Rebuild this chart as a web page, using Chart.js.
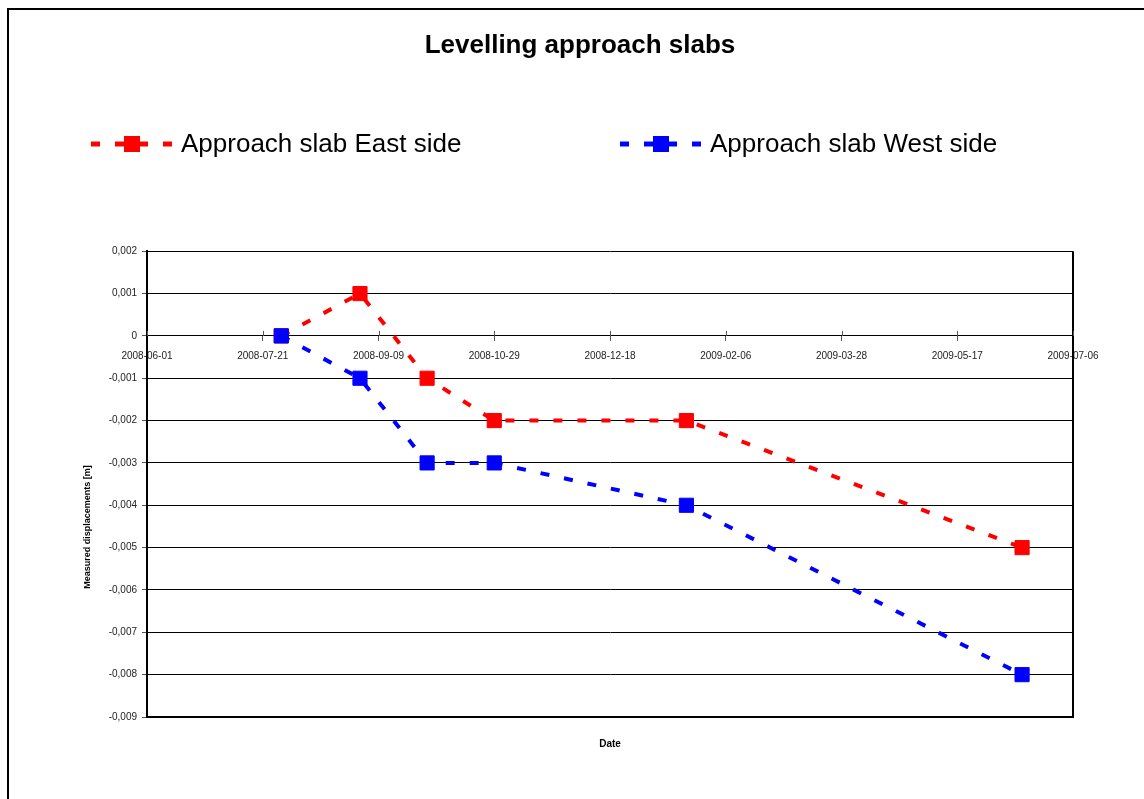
<!DOCTYPE html>
<html>
<head>
<meta charset="utf-8">
<title>Levelling approach slabs</title>
<script src="https://cdn.jsdelivr.net/npm/chart.js@4.4.1/dist/chart.umd.min.js"></script>
<style>
  body { margin: 0; background: #fff; overflow: hidden; }
  #frame { position: absolute; left: 7px; top: 8px; width: 1200px; height: 900px; border-left: 2px solid #000; border-top: 2px solid #000; }
  #wrap { position: absolute; left: 0; top: 0; width: 1144px; height: 799px; }
</style>
</head>
<body>
<div id="frame"></div>
<div id="wrap"><canvas id="levelChart"></canvas></div>
<script>
// levelling dates and measured values
var dates = ['2008-07-29', '2008-09-01', '2008-09-30', '2008-10-29', '2009-01-20', '2009-06-14'];
var eastSide = [0, 0.001, -0.001, -0.002, -0.002, -0.005];
var westSide = [0, -0.001, -0.003, -0.003, -0.004, -0.008];
var seriesNames = ['Approach slab East side', 'Approach slab West side'];
var seriesColors = ['#ff0000', '#0000ff'];

// date axis ticks (every 50 days)
var xTickLabels = ['2008-06-01', '2008-07-21', '2008-09-09', '2008-10-29', '2008-12-18',
                   '2009-02-06', '2009-03-28', '2009-05-17', '2009-07-06'];
var yMin = -0.009, yMax = 0.002, yStep = 0.001;
var yTitle = 'Measured displacements [m]';

// days since first tick
var dayOf = function(s)
{
	return (Date.parse(s) - Date.parse(xTickLabels[0])) / 86400000;
};

var points = function(values)
{
	return dates.map(function(d, i) { return { x: dayOf(d), y: values[i] }; });
};

var fmtY = function(v)
{
	var r = Math.round(v * 1000) / 1000;
	if (r === 0) return '0';
	return r.toFixed(3).replace('.', ',');
};

var slabExtras = {
	id: 'slabExtras',
	beforeDatasetsDraw: function(chart) {
		var ctx = chart.ctx, a = chart.chartArea, xs = chart.scales.x;
		var y0 = chart.scales.y.getPixelForValue(0);
		ctx.save();
		// right and bottom edge of plot area
		ctx.strokeStyle = '#000';
		ctx.lineWidth = 2;
		ctx.beginPath();
		ctx.moveTo(a.right, a.top);
		ctx.lineTo(a.right, a.bottom);
		ctx.lineTo(a.left, a.bottom);
		ctx.stroke();
		// upper half of the crossing tick marks
		ctx.strokeStyle = '#555';
		ctx.lineWidth = 1;
		xs.ticks.forEach(function(t) {
			var px = Math.round(xs.getPixelForValue(t.value)) + 0.5;
			ctx.beginPath();
			ctx.moveTo(px, y0 - 5);
			ctx.lineTo(px, y0);
			ctx.stroke();
		});
		ctx.restore();
	},
	afterDraw: function(chart) {
		var ctx = chart.ctx;
		ctx.save();
		// y axis title, sits a bit below the middle like the original
		ctx.translate(88, 527);
		ctx.rotate(-Math.PI / 2);
		ctx.fillStyle = '#000';
		ctx.font = 'bold 9px "Liberation Sans", Arial, sans-serif';
		ctx.textAlign = 'center';
		ctx.textBaseline = 'middle';
		ctx.fillText(yTitle, 0, 0);
		ctx.restore();

		// legend: dashed line with square marker, then label
		var legendLeft = [91, 620], ly = 144;
		ctx.save();
		chart.data.datasets.forEach(function(ds, i) {
			var lx = legendLeft[i];
			ctx.strokeStyle = ds.borderColor;
			ctx.fillStyle = ds.borderColor;
			ctx.lineWidth = 5;
			ctx.setLineDash(ds.borderDash);
			ctx.beginPath();
			ctx.moveTo(lx, ly);
			ctx.lineTo(lx + 81, ly);
			ctx.stroke();
			ctx.setLineDash([]);
			ctx.fillRect(lx + 33, ly - 8, 16, 16);
			ctx.fillStyle = '#000';
			ctx.font = '26px "Liberation Sans", Arial, sans-serif';
			ctx.textBaseline = 'middle';
			ctx.fillText(ds.label, lx + 90, ly + 1);
		});
		ctx.restore();
	}
};

Chart.defaults.font.family = '"Liberation Sans", Arial, sans-serif';

var makeSet = function(i, values, order)
{
	return {
		label: seriesNames[i],
		data: points(values),
		order: order,
		borderColor: seriesColors[i],
		backgroundColor: seriesColors[i],
		borderWidth: 4,
		borderDash: [9, 15],
		pointStyle: 'rect',
		pointRadius: 10,
		pointBorderWidth: 1,
		pointBackgroundColor: seriesColors[i],
		pointBorderColor: seriesColors[i],
		tension: 0,
		fill: false
	};
};

var ctx = document.getElementById('levelChart').getContext('2d');
var levelChart = new Chart(ctx, {
	type: 'line',
	data: {
		// west drawn on top of east
		datasets: [makeSet(0, eastSide, 1), makeSet(1, westSide, 0)]
	},
	options: {
		responsive: true,
		maintainAspectRatio: false,
		animation: false,
		layout: { padding: { left: 16, right: 0, top: 0, bottom: 0 } },
		plugins: {
			title: {
				display: true,
				text: 'Levelling approach slabs',
				color: '#000',
				font: { size: 26, weight: 'bold' },
				padding: { top: 30, bottom: 190 }
			},
			legend: { display: false },
			tooltip: { enabled: false }
		},
		scales: {
			x: {
				type: 'linear',
				position: { y: 0 },
				min: dayOf(xTickLabels[0]),
				max: dayOf(xTickLabels[xTickLabels.length - 1]),
				afterBuildTicks: function(scale) {
					scale.ticks = xTickLabels.map(function(d) { return { value: dayOf(d) }; });
				},
				grid: { drawOnChartArea: false, drawTicks: true, tickLength: 5, color: '#555' },
				border: { display: true, color: '#000', width: 1 },
				ticks: {
					autoSkip: false,
					maxRotation: 0,
					padding: 9,
					color: '#222',
					font: { size: 10 },
					callback: function(v, idx) { return xTickLabels[idx]; }
				}
			},
			xDate: {
				type: 'linear',
				axis: 'x',
				position: 'bottom',
				ticks: { display: false },
				grid: { display: false, drawTicks: false },
				border: { display: false },
				title: {
					display: true,
					text: 'Date',
					color: '#000',
					font: { size: 10, weight: 'bold' },
					padding: { top: 21, bottom: 49 }
				}
			},
			y: {
				min: yMin,
				max: yMax,
				ticks: {
					stepSize: yStep,
					color: '#222',
					font: { size: 10 },
					padding: 5,
					callback: fmtY
				},
				grid: { color: '#000', lineWidth: 1, tickLength: 5, tickColor: '#555' },
				border: { color: '#000', width: 2 },
				afterFit: function(scale) { scale.width = 131; }
			},
			// empty right axis only keeps the plot's right edge in place
			ySpace: {
				type: 'linear',
				axis: 'y',
				position: 'right',
				ticks: { display: false },
				grid: { display: false, drawTicks: false },
				border: { display: false },
				afterFit: function(scale) { scale.width = 71; }
			}
		}
	},
	plugins: [slabExtras]
});
</script>
</body>
</html>
